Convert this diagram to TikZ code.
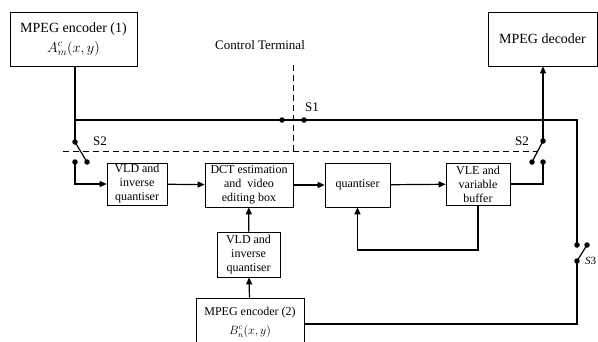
\documentclass[tikz,border=0pt]{standalone}
\usepackage{fontspec}
\setmainfont{Liberation Serif}
\usetikzlibrary{arrows.meta}
\begin{document}
\begin{tikzpicture}[x=1pt,y=-1pt,
  blk/.style={draw,line width=0.7pt,align=center,inner sep=0pt,font=\fontsize{12}{14}\selectfont},
  wire/.style={line width=1.2pt},
  arr/.style={wire,-{Triangle[length=7pt,width=6pt]}},
  dot/.style={circle,fill,inner sep=0pt,minimum size=5.5pt},
  ctdash/.style={line width=1pt,dash pattern=on 6pt off 4pt},
  lbl/.style={font=\fontsize{13}{15}\selectfont}]
\useasboundingbox (0,0) rectangle (598,341);
% boxes
\node[blk,minimum width=127pt,minimum height=54pt,font=\fontsize{14}{20}\selectfont] (enc1) at (73.5,39)
  {MPEG encoder (1)\\ $A_m^c(x,y)$};
\node[blk,minimum width=109pt,minimum height=54pt,font=\fontsize{14}{16}\selectfont] (dec) at (542.5,39) {MPEG decoder};
\node[blk,minimum width=60pt,minimum height=42pt] (vld1) at (137,184) {VLD and\\inverse\\quantiser};
\node[blk,minimum width=88pt,minimum height=44pt] (dct) at (249,185) {DCT estimation\\and\ \ video\\editing box};
\node[blk,minimum width=65pt,minimum height=44pt] (quant) at (357.5,185) {quantiser};
\node[blk,minimum width=64pt,minimum height=42pt] (vle) at (478,184) {VLE and\\variable\\buffer};
\node[blk,minimum width=63pt,minimum height=45pt] (vld2) at (248.5,254.5) {VLD and\\inverse\\quantiser};
\node[blk,minimum width=108pt,minimum height=48pt,font=\fontsize{12}{19}\selectfont] (enc2) at (250,322)
  {MPEG encoder (2)\\ $B_n^c(x,y)$};
% coordinates
\coordinate (e1d) at (75,66);
\coordinate (br) at (75,120);
\coordinate (s2lt) at (75,142);
\coordinate (s2lb) at (87,162);
\coordinate (s2lc) at (75,162);
\coordinate (l1) at (75,184);
\coordinate (s1a) at (282,120);
\coordinate (s1b) at (304,120);
\coordinate (tr) at (577,120);
\coordinate (s3t) at (577,245);
\coordinate (s3r) at (587,245);
\coordinate (s3b) at (577,261);
\coordinate (s3d) at (577,324);
\coordinate (r1) at (543,184);
\coordinate (s2rc) at (543,162);
\coordinate (s2rt) at (543,141);
\coordinate (s2rb) at (532,162);
\coordinate (fb1) at (478,250);
\coordinate (fb2) at (357.5,250);
\coordinate (dh1) at (63,151);
\coordinate (dh2) at (537,151);
\coordinate (dv1) at (293,65);
\coordinate (dv2) at (293,151);
% dashed control terminal
\draw[ctdash] (dh1) -- (dh2);
\draw[ctdash] (dv1) -- (dv2);
% wires
\draw[wire] (e1d) -- (s2lt);
\draw[wire] (br) -- (s1a) -- (s1b) -- (tr) -- (s3t);
\draw[wire] (s2lt) -- (s2lb);
\draw[arr] (s2lc) -- (l1) -- (vld1.west);
\draw[arr] (vld1) -- (dct);
\draw[arr] (dct) -- (quant);
\draw[arr] (quant) -- (vle);
\draw[arr] (vld2) -- (dct);
\draw[arr] (enc2) -- (vld2);
\draw[wire] (vle.east) -- (r1) -- (s2rc);
\draw[wire] (s2rt) -- (s2rb);
\draw[arr] (s2rt) -- (dec.south -| s2rt);
\draw[wire] (s3b) -- (s3r);
\draw[wire] (s3b) -- (s3d) -- (enc2.east |- s3d);
\draw[arr] (vle.south) -- (fb1) -- (fb2) -- (quant.south);
% dots
\foreach \p in {s2lt,s2lb,s2lc,s1a,s1b,s2rt,s2rb,s2rc,s3t,s3r,s3b}
  \node[dot] at (\p) {};
% labels
\node[lbl] (ct) at (260,45) {Control Terminal};
\node[lbl] (ls1) at (312,107) {S1};
\node[lbl] (ls2l) at (100,141) {S2};
\node[lbl] (ls2r) at (522,141) {S2};
\node[anchor=west,inner sep=0pt,font=\fontsize{11}{13}\selectfont] (ls3) at (585,261) {\textit{S}3};
\end{tikzpicture}
\end{document}
